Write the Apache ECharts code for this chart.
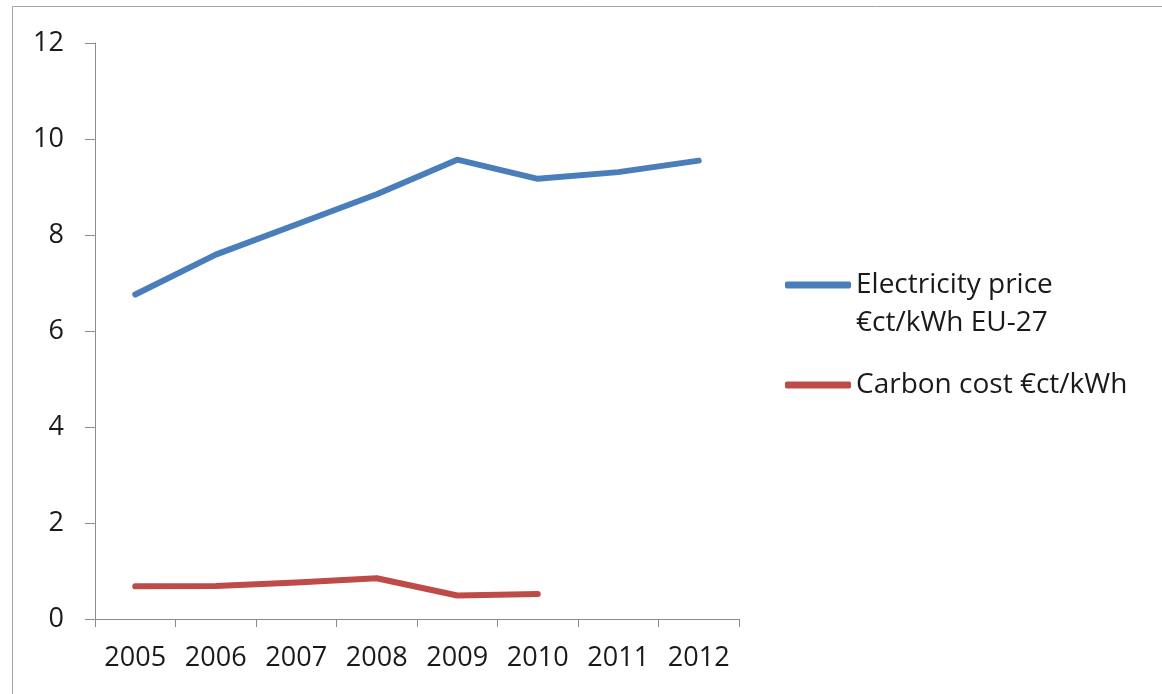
<!DOCTYPE html>
<html>
<head>
<meta charset="utf-8">
<style>
html,body{margin:0;padding:0;background:#fff;}
#chart{width:1162px;height:694px;}
</style>
<script src="https://cdn.jsdelivr.net/npm/echarts@6/dist/echarts.min.js"></script>
</head>
<body>
<div id="chart"></div>
<script>
const years = ['2005','2006','2007','2008','2009','2010','2011','2012'];
const electricityPrice = [6.76, 7.59, 8.22, 8.85, 9.57, 9.17, 9.31, 9.55];
const carbonCost = [0.68, 0.69, 0.76, 0.85, 0.49, 0.52];
const yTicks = [0, 2, 4, 6, 8, 10, 12];
const seriesNames = ['Electricity price\n€ct/kWh EU-27', 'Carbon cost €ct/kWh'];

const FONT = '"Open Sans", "Noto Sans", sans-serif';
const chart = echarts.init(document.getElementById('chart'), null, {renderer: 'canvas'});
const legendCommon = {
  padding: 0,
  itemWidth: 66, itemHeight: 7,
  icon: 'roundRect',
  textStyle: {fontFamily: FONT, fontSize: 28, color: '#1a1a1a', lineHeight: 38}
};
chart.setOption({
  backgroundColor: '#ffffff',
  animation: false,
  graphic: [{
    type: 'rect', silent: true, z: -1,
    shape: {x: 12.5, y: 6.5, width: 1170, height: 720},
    style: {fill: 'none', stroke: '#a6a6a6', lineWidth: 1}
  }],
  grid: {left: 95, right: 423, top: 43, bottom: 75, containLabel: false},
  legend: [Object.assign({
    data: [seriesNames[0]],
    left: 785, top: 228,
    formatter: function (name) { return ' \n' + name; }
  }, legendCommon), Object.assign({
    data: [seriesNames[1]],
    left: 785, top: 366
  }, legendCommon)],
  xAxis: {
    type: 'category',
    data: years,
    boundaryGap: true,
    axisLine: {lineStyle: {color: '#8c8c8c', width: 1}},
    axisTick: {show: true, length: 8, alignWithLabel: false, lineStyle: {color: '#8c8c8c'}},
    axisLabel: {fontFamily: FONT, fontSize: 27, color: '#1a1a1a', margin: 26, interval: 0},
    splitLine: {show: false}
  },
  yAxis: {
    type: 'value',
    min: yTicks[0], max: yTicks[yTicks.length - 1], interval: 2,
    axisLine: {show: true, lineStyle: {color: '#8c8c8c', width: 1}},
    axisTick: {show: true, length: 10, lineStyle: {color: '#8c8c8c'}},
    axisLabel: {fontFamily: FONT, fontSize: 27, color: '#1a1a1a', margin: 31},
    splitLine: {show: false}
  },
  series: [{
    name: seriesNames[0],
    type: 'line',
    data: electricityPrice,
    symbol: 'none',
    smooth: false,
    color: '#4a7ebb',
    lineStyle: {width: 6, color: '#4a7ebb', cap: 'round', join: 'round'}
  }, {
    name: seriesNames[1],
    type: 'line',
    data: carbonCost,
    symbol: 'none',
    smooth: false,
    color: '#be4b48',
    lineStyle: {width: 6, color: '#be4b48', cap: 'round', join: 'round'}
  }]
});
</script>
</body>
</html>
